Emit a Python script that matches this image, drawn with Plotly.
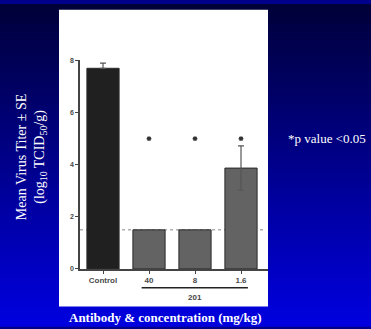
import plotly.graph_objects as go

# ---- data ----
categories = ["Control", "40", "8", "1.6"]
titer = [7.7, 1.5, 1.5, 3.87]
se_plus = [0.2, 0.0, 0.0, 0.85]
se_minus = [0.0, 0.0, 0.0, 0.85]
significant = ["40", "8", "1.6"]
sig_level = [5.0, 5.0, 5.0]
lod = 1.5
y_ticks = [0, 2, 4, 6, 8]
group_label = "201"

W, H = 371, 329
def px(x): return x / W
def py(y): return 1 - y / H

bar_colors = ["#202020", "#636363", "#636363", "#636363"]

fig = go.Figure()
fig.add_trace(go.Bar(
    x=categories, y=titer, width=0.7,
    marker=dict(color=bar_colors, line=dict(color="#2a2a2a", width=1)),
    error_y=dict(type="data", array=se_plus, arrayminus=se_minus, symmetric=False,
                 color="#555555", thickness=1.2, width=3),
    showlegend=False, hoverinfo="skip",
))
fig.add_trace(go.Scatter(
    x=significant, y=sig_level, mode="markers",
    marker=dict(symbol="asterisk-open", size=4, color="#333333",
                line=dict(color="#333333", width=1.2)),
    showlegend=False, cliponaxis=False, hoverinfo="skip",
))

shapes = []
# gradient background
n = 80
top = (0, 0, 0x38)
bot = (0, 0, 0xE0)
for i in range(n):
    t = (i + 0.5) / n
    c = tuple(int(round(top[k] + (bot[k] - top[k]) * t)) for k in range(3))
    shapes.append(dict(type="rect", xref="paper", yref="paper", x0=0, x1=1,
                       y0=1 - (i + 1) / n - 0.002, y1=1 - i / n,
                       fillcolor="rgb(%d,%d,%d)" % c, line=dict(width=0), layer="below"))
# white panel
shapes.append(dict(type="rect", xref="paper", yref="paper", x0=px(59), x1=px(268),
                   y0=py(309), y1=py(6), fillcolor="white", line=dict(width=0), layer="below"))
# detection limit
shapes.append(dict(type="line", xref="x domain", yref="y", x0=0, x1=0.985, y0=lod, y1=lod,
                   line=dict(color="#888888", width=1, dash="dot"), layer="below"))
# group bracket under 40..1.6
shapes.append(dict(type="line", xref="x", yref="paper", x0=1 - 0.16, x1=3 + 0.15,
                   y0=py(290), y1=py(290), line=dict(color="#222222", width=1.5)))

annotations = [
    dict(text=group_label, xref="paper", yref="paper", x=px(195), y=py(299.5),
         xanchor="center", yanchor="middle", showarrow=False,
         font=dict(family="Liberation Sans, Arial", size=8, color="#444444", weight="bold")),
    dict(text="Mean Virus Titer ± SE<br>(log<sub>10</sub> TCID<sub>50</sub>/g)",
         xref="paper", yref="paper", x=px(31.5), y=py(157), textangle=-90, showarrow=False,
         xanchor="center", yanchor="middle",
         font=dict(family="Liberation Serif, Times New Roman", size=14, color="white")),
    dict(text="*p value <0.05", xref="paper", yref="paper", x=px(326.5), y=py(137),
         xanchor="center", yanchor="middle", showarrow=False,
         font=dict(family="Liberation Serif, Times New Roman", size=13, color="white")),
    dict(text="Antibody & concentration (mg/kg)", xref="paper", yref="paper",
         x=px(164.5), y=py(320), xanchor="center", yanchor="middle", showarrow=False,
         font=dict(family="Liberation Serif, Times New Roman", size=13, color="white",
                   weight="bold")),
]

fig.update_layout(
    width=W, height=H, margin=dict(l=0, r=0, t=0, b=0),
    paper_bgcolor="#00008a", plot_bgcolor="rgba(0,0,0,0)",
    shapes=shapes, annotations=annotations, bargap=0.3,
    xaxis=dict(domain=[px(80), px(268)], range=[-0.5, 3.587], type="category",
               categoryorder="array", categoryarray=categories,
               showline=True, linecolor="#444444", linewidth=1.5,
               ticks="outside", ticklen=3, tickcolor="#444444",
               tickfont=dict(family="Liberation Sans, Arial", size=8, color="#4a4a4a",
                             weight="bold"),
               showgrid=False, zeroline=False, fixedrange=True),
    yaxis=dict(domain=[py(270.7), py(57.7)], range=[0, 8], tickvals=y_ticks,
               showline=True, linecolor="#444444", linewidth=1.5,
               ticks="outside", ticklen=3, tickcolor="#444444",
               tickfont=dict(family="Liberation Sans, Arial", size=7, color="#4a4a4a",
                             weight="bold"),
               showgrid=False, zeroline=False, fixedrange=True),
)

fig.write_html("out.html", config={"displayModeBar": False},
               post_script="document.body.style.margin='0';document.body.style.overflow='hidden';")
